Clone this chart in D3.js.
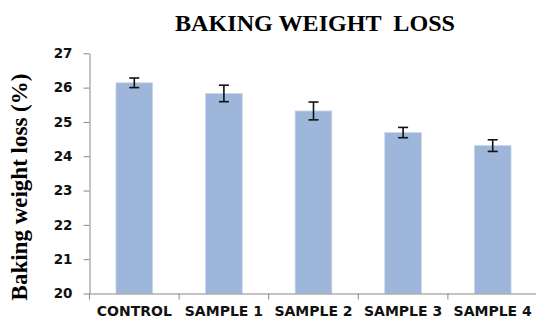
<!DOCTYPE html>
<html><head><meta charset="utf-8">
<script src="https://cdn.jsdelivr.net/npm/d3@7"></script>
<style>body{margin:0;background:#fff}svg{display:block}</style>
</head><body>
<script>
const categories = ["CONTROL","SAMPLE 1","SAMPLE 2","SAMPLE 3","SAMPLE 4"];
const values = [26.14, 25.83, 25.32, 24.69, 24.31];
const errors = [0.14, 0.24, 0.26, 0.15, 0.17];
const yTicks = [20,21,22,23,24,25,26,27];
const title = "BAKING WEIGHT  LOSS";
const yTitle = "Baking weight loss (%)";

const W=536,H=321;
const svg=d3.select("body").append("svg").attr("width",W).attr("height",H);
const x=d3.scaleBand().domain(categories).range([89.5,537.5]).paddingInner(0).paddingOuter(0);
const y=d3.scaleLinear().domain([20,27]).range([293.5,53.3]);
const axisColor="#888";

// bars
const bw=x.bandwidth()*0.41;
svg.selectAll("rect.bar").data(values).join("rect").attr("class","bar")
 .attr("x",(d,i)=>x(categories[i])+x.bandwidth()/2-bw/2)
 .attr("y",d=>y(d)).attr("width",bw).attr("height",d=>y(20)-y(d))
 .attr("fill","#9db6d9").attr("stroke","#c9d8ec").attr("stroke-width",0.8);

// error bars
const eb=svg.append("g").attr("stroke","#111").attr("stroke-width",1.6);
values.forEach((v,i)=>{
  const cx=x(categories[i])+x.bandwidth()/2;
  eb.append("line").attr("x1",cx).attr("x2",cx).attr("y1",y(v+errors[i])).attr("y2",y(v-errors[i]));
  [v+errors[i],v-errors[i]].forEach(e=>eb.append("line").attr("x1",cx-5).attr("x2",cx+5).attr("y1",y(e)).attr("y2",y(e)));
});

// y axis
const ya=svg.append("g").attr("transform","translate(89.5,0)")
 .call(d3.axisLeft(y).tickValues(yTicks).tickFormat(d3.format("d")).tickSize(6).tickSizeOuter(0).tickPadding(11));
ya.select(".domain").attr("stroke",axisColor);
ya.selectAll(".tick line").attr("stroke",axisColor);
ya.selectAll("text").attr("font-family","'DejaVu Sans',sans-serif").attr("font-weight","bold").attr("font-size","13.5px").attr("fill","#111");

// x axis
const xa=svg.append("g").attr("transform","translate(0,293.5)")
 .call(d3.axisBottom(x).tickSize(0).tickPadding(0));
xa.select(".domain").attr("stroke",axisColor);
xa.selectAll(".tick text").attr("font-family","'DejaVu Sans',sans-serif").attr("font-weight","bold").attr("font-size","14px").attr("fill","#111").attr("dy",null).attr("y",22);
// boundary tick marks
const bounds=categories.map(c=>x(c)).concat([x(categories[categories.length-1])+x.bandwidth()]);
svg.append("g").selectAll("line").data(bounds).join("line")
 .attr("x1",d=>d).attr("x2",d=>d).attr("y1",293.5).attr("y2",299.5).attr("stroke",axisColor);

// title
svg.append("text").attr("x",315).attr("y",31).attr("text-anchor","middle")
 .attr("font-family","'Liberation Serif','Times New Roman',serif").attr("font-weight","bold").attr("font-size","24px")
 .attr("textLength",280).attr("lengthAdjust","spacingAndGlyphs")
 .style("white-space","pre").text(title);

// y title
svg.append("text").attr("transform","translate(27,187) rotate(-90)").attr("text-anchor","middle")
 .attr("font-family","'Liberation Serif','Times New Roman',serif").attr("font-weight","bold").attr("font-size","23px")
 .text(yTitle);
</script>
</body></html>
